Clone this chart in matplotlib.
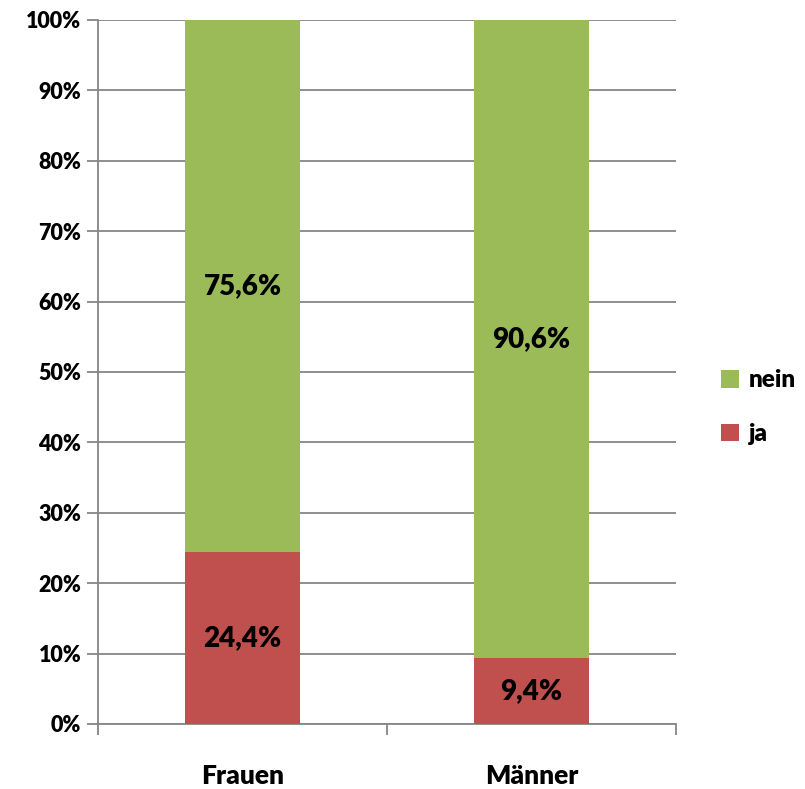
import matplotlib.pyplot as plt
from matplotlib.ticker import FuncFormatter, MultipleLocator

# Data
categories = ["Frauen", "Männer"]
ja = [24.4, 9.4]
nein = [75.6, 90.6]

green = "#9BBB59"
red = "#C0504D"
grid_col = "#868686"

plt.rcParams["font.family"] = ["Lato", "DejaVu Sans"]
plt.rcParams["font.weight"] = "heavy"

fig = plt.figure(figsize=(8.05, 7.89), dpi=100)
ax = fig.add_axes([98 / 805, 65 / 789, 578 / 805, 704 / 789])

x = range(len(categories))
b_ja = ax.bar(x, ja, width=0.4, color=red, label="ja", zorder=3)
b_nein = ax.bar(x, nein, width=0.4, bottom=ja, color=green, label="nein", zorder=3)

fmt = lambda v: f"{v:.1f}%".replace(".", ",")
ax.bar_label(b_ja, labels=[fmt(v) for v in ja], label_type="center",
             fontsize=20, fontweight="heavy")
ax.bar_label(b_nein, labels=[fmt(v) for v in nein], label_type="center",
             fontsize=20, fontweight="heavy")

# Axes styling
ax.set_xlim(-0.5, 1.5)
ax.set_ylim(0, 100)
ax.yaxis.set_major_locator(MultipleLocator(10))
ax.yaxis.set_major_formatter(FuncFormatter(lambda v, p: f"{v:.0f}%"))
ax.grid(axis="y", color=grid_col, linewidth=1.3, zorder=0)
for s in ["top", "right"]:
    ax.spines[s].set_visible(False)
for s in ["left", "bottom"]:
    ax.spines[s].set_color(grid_col)
    ax.spines[s].set_linewidth(1.3)

ax.set_xticks([-0.5, 0.5, 1.5])
ax.set_xticklabels([])
ax.set_xticks(list(x), minor=True)
ax.set_xticklabels(categories, minor=True, fontsize=19, fontweight="heavy")
ax.tick_params(axis="x", which="major", length=8, color=grid_col, width=1.3)
ax.tick_params(axis="x", which="minor", length=0, pad=28.5)
ax.tick_params(axis="y", length=8, color=grid_col, width=1.3, labelsize=15.5, pad=4)
for lbl in ax.get_yticklabels():
    lbl.set_fontweight("heavy")

handles, labels = ax.get_legend_handles_labels()
leg = ax.legend(handles[::-1], labels[::-1], loc="center left",
                bbox_to_anchor=(1.04, 0.45), frameon=False,
                prop={"size": 17.5, "weight": "heavy"}, handlelength=0.75,
                handleheight=0.75, handletextpad=0.4, labelspacing=1.3)

fig.savefig("out.png", dpi=100)
